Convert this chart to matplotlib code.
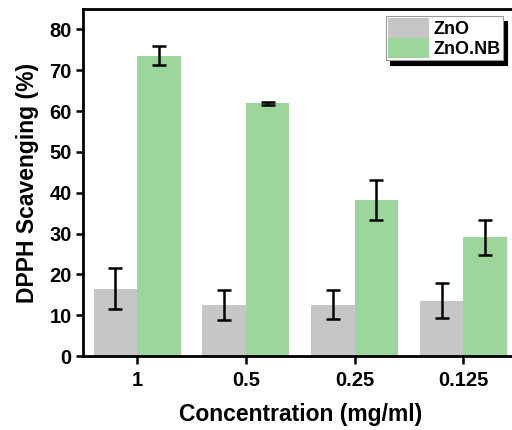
import matplotlib.pyplot as plt
import numpy as np

plt.rcParams['font.family'] = ['Liberation Sans', 'DejaVu Sans']
plt.rcParams['font.weight'] = 'bold'

# data
conc = ["1", "0.5", "0.25", "0.125"]
zno = [16.5, 12.5, 12.6, 13.6]
zno_err = [5.0, 3.7, 3.5, 4.3]
znonb = [73.6, 61.9, 38.2, 29.1]
znonb_err = [2.4, 0.3, 4.8, 4.3]

x = np.arange(len(conc))
width = 0.4

fig = plt.figure(figsize=(5.12, 4.30), dpi=100)
ax = fig.add_axes([0.1615, 0.172, 0.85, 0.807])

ax.bar(x - width/2, zno, width, color="#c6c6c6", label="ZnO")
ax.bar(x + width/2, znonb, width, color="#9dd69a", label="ZnO.NB")
ekw = dict(fmt='none', ecolor='black', elinewidth=1.8, capsize=5, capthick=1.8)
ax.errorbar(x - width/2, zno, yerr=zno_err, **ekw)
ax.errorbar(x + width/2, znonb, yerr=znonb_err, **ekw)

ax.set_xlim(-0.5, 3.5)
ax.set_ylim(0, 85)
ax.set_yticks(np.arange(0, 81, 10))
ax.set_xticks(x)
ax.set_xticklabels(conc)
ax.tick_params(axis='both', labelsize=14.5, width=1.8, direction='out')
ax.tick_params(axis='y', length=5, pad=3)
ax.tick_params(axis='x', length=6, pad=5)
for s in ['left', 'bottom', 'top']:
    ax.spines[s].set_linewidth(2)
ax.spines['right'].set_visible(False)

ax.set_xlabel("Concentration (mg/ml)", fontsize=16.5, fontweight='bold', labelpad=9)
ax.set_ylabel("DPPH Scavenging (%)", fontsize=16.5, fontweight='bold', labelpad=7)

leg = ax.legend(loc='upper right', bbox_to_anchor=(0.966, 0.980), borderaxespad=0,
                fontsize=13, frameon=True, fancybox=False, labelspacing=0,
                handlelength=2.3, handleheight=1.3, handletextpad=0.25,
                borderpad=0.12,
                shadow={'ox': 3, 'oy': -3.5, 'facecolor': 'k', 'edgecolor': 'k', 'alpha': 1})
leg.get_frame().set_edgecolor('#999999')
leg.get_frame().set_linewidth(0.8)

plt.savefig('out.png', dpi=100)
